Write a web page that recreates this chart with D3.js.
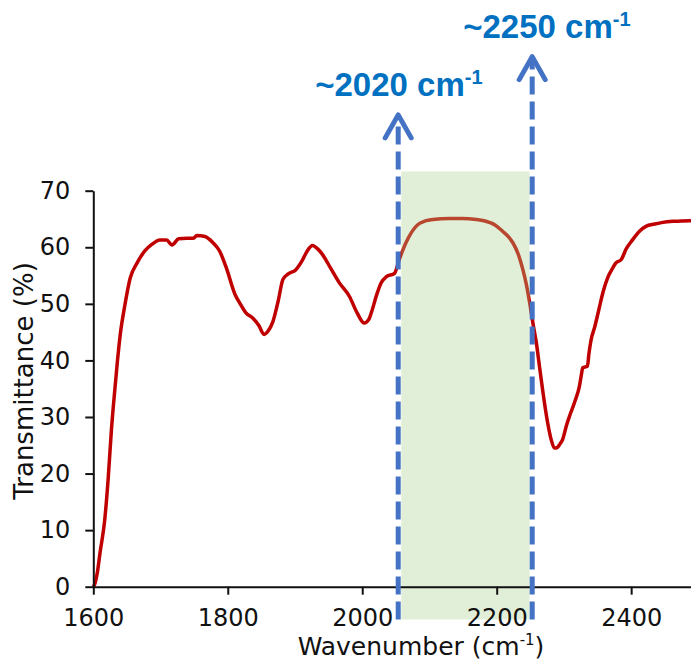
<!DOCTYPE html>
<html>
<head>
<meta charset="utf-8">
<script src="https://cdn.jsdelivr.net/npm/d3@7"></script>
<style>
  html, body { margin: 0; padding: 0; background: #fff; }
  svg { display: block; }
</style>
</head>
<body>
<svg id="chart" width="691" height="662"></svg>
<script>
// IR transmittance spectrum: wavenumber (cm-1) vs transmittance (%)
const wavenumbers = [
  1600, 1602, 1606, 1610, 1617, 1622, 1627, 1632, 1636, 1640,
  1647, 1655, 1665, 1677, 1687, 1699, 1709, 1717, 1727, 1739,
  1749, 1754, 1766, 1778, 1788, 1798, 1811, 1818, 1827, 1837,
  1846, 1854, 1860, 1867, 1875, 1882, 1890, 1901, 1910, 1918,
  1926, 1933, 1941, 1953, 1966, 1981, 1992, 2003, 2010, 2015,
  2022, 2028, 2036, 2048, 2055, 2065, 2080, 2095, 2105, 2130,
  2149, 2170, 2184, 2198, 2209, 2218, 2224, 2232, 2239, 2244,
  2249, 2254, 2259, 2264, 2269, 2275, 2281, 2286, 2290, 2294,
  2298, 2304, 2310, 2317, 2323, 2326, 2328, 2335, 2337, 2340,
  2346, 2352, 2358, 2365, 2371, 2377, 2385, 2393, 2402, 2412,
  2422, 2435, 2447, 2465, 2489
];
const transmittance = [
  0.0, 0.4, 2.5, 6.0, 11.8, 18.9, 27.8, 34.8, 40.0, 44.5,
  49.8, 54.6, 57.2, 59.4, 60.5, 61.3, 61.3, 60.4, 61.5, 61.6,
  61.6, 62.1, 61.9, 60.8, 59.3, 56.3, 51.6, 50.1, 48.4, 47.5,
  46.2, 44.6, 45.2, 46.8, 50.5, 54.3, 55.3, 56.0, 57.5, 59.3,
  60.3, 59.8, 58.7, 56.3, 53.7, 51.3, 48.5, 46.6, 47.3, 49.0,
  51.8, 53.7, 54.8, 55.4, 57.8, 60.8, 63.7, 64.7, 64.9, 65.1,
  65.1, 64.9, 64.6, 63.9, 62.8, 61.8, 60.8, 58.8, 56.0, 53.5,
  50.2, 46.5, 43.1, 38.6, 34.2, 29.5, 26.0, 24.5, 24.6, 25.2,
  26.0, 28.6, 30.7, 33.0, 35.4, 37.5, 38.7, 39.0, 41.0, 43.4,
  46.0, 49.0, 52.0, 54.6, 56.0, 57.2, 57.8, 59.8, 61.3, 62.8,
  63.7, 64.1, 64.4, 64.6, 64.7
];

const xTicks = [1600, 1800, 2000, 2200, 2400];
const yTicks = [0, 10, 20, 30, 40, 50, 60, 70];

// Highlighted window between the two marked wavenumbers
const markerWavenumbers = [2053.5, 2252.8];
const markerTips = [83.4, 93.7];          // arrow tip heights in % units
const markerLabels = ["~2020 cm", "~2250 cm"];
const bandRange = [2058, 2249];
const bandTop = 73.4;
const bandBottom = -5.8;

const svg = d3.select("#chart");

const x = d3.scaleLinear().domain([1600, 2489]).range([93.3, 691]);
const y = d3.scaleLinear().domain([0, 70]).range([586.7, 190.7]);

const data = wavenumbers.map((w, i) => ({ w, t: transmittance[i] }));

// Spectrum line
const line = d3.line()
  .x(d => x(d.w))
  .y(d => y(d.t))
  .curve(d3.curveMonotoneX);

svg.append("path")
  .datum(data)
  .attr("fill", "none")
  .attr("stroke", "#C00000")
  .attr("stroke-width", 3.5)
  .attr("stroke-linejoin", "round")
  .attr("d", line);

// Translucent green band over the window
svg.append("rect")
  .attr("x", x(bandRange[0]))
  .attr("width", x(bandRange[1]) - x(bandRange[0]))
  .attr("y", y(bandTop))
  .attr("height", y(bandBottom) - y(bandTop))
  .attr("fill", "#A9D08E")
  .attr("fill-opacity", 0.34);

// Axes
const fontFamily = "'DejaVu Sans', Verdana, sans-serif";

const xAxis = svg.append("g")
  .attr("transform", `translate(0,${y(0)})`)
  .call(d3.axisBottom(x).tickValues(xTicks).tickFormat(d3.format("d"))
    .tickSize(8).tickSizeOuter(0).tickPadding(14));

const yAxis = svg.append("g")
  .attr("transform", `translate(${x(1600)},0)`)
  .call(d3.axisLeft(y).tickValues(yTicks).tickFormat(d3.format("d"))
    .tickSize(8).tickSizeOuter(0).tickPadding(15));

[xAxis, yAxis].forEach(g => {
  g.select(".domain").attr("stroke", "#111").attr("stroke-width", 2);
  g.selectAll(".tick line").attr("stroke", "#111").attr("stroke-width", 2);
  g.selectAll(".tick text")
    .attr("fill", "#111")
    .style("font-family", fontFamily)
    .style("font-size", "24px");
});

// Axis titles
const xTitle = svg.append("text")
  .attr("x", 421)
  .attr("y", 655)
  .attr("text-anchor", "middle")
  .attr("fill", "#111")
  .style("font-family", fontFamily)
  .style("font-size", "25px");
xTitle.append("tspan").text("Wavenumber (cm");
xTitle.append("tspan").text("-1").attr("dy", -10).style("font-size", "15px");
xTitle.append("tspan").text(")").attr("dy", 10);

svg.append("text")
  .attr("transform", "translate(33,381) rotate(-90)")
  .attr("text-anchor", "middle")
  .attr("fill", "#111")
  .style("font-family", fontFamily)
  .style("font-size", "26px")
  .text("Transmittance (%)");

// Dashed marker arrows with labels
const labelOffsets = [-83, -69];
const labelBaselines = [96, 38];

markerWavenumbers.forEach((w, i) => {
  const mx = x(w);
  const tipY = y(markerTips[i]);
  svg.append("line")
    .attr("x1", mx).attr("x2", mx)
    .attr("y1", y(bandBottom)).attr("y2", tipY)
    .attr("stroke", "#4472C4")
    .attr("stroke-width", 5)
    .attr("stroke-dasharray", "18,7");
  svg.append("path")
    .attr("d", `M${mx - 13},${tipY + 23} L${mx},${tipY} L${mx + 13},${tipY + 23}`)
    .attr("fill", "none")
    .attr("stroke", "#4472C4")
    .attr("stroke-width", 5)
    .attr("stroke-linecap", "round")
    .attr("stroke-linejoin", "round");

  const label = svg.append("text")
    .attr("x", mx + labelOffsets[i])
    .attr("y", labelBaselines[i])
    .attr("fill", "#0070C0")
    .style("font-family", "'Liberation Sans', Arial, sans-serif")
    .style("font-weight", "bold")
    .style("font-size", "33px");
  label.append("tspan").text(markerLabels[i]);
  label.append("tspan").text("-1").attr("dy", -12).style("font-size", "20px");
});
</script>
</body>
</html>
